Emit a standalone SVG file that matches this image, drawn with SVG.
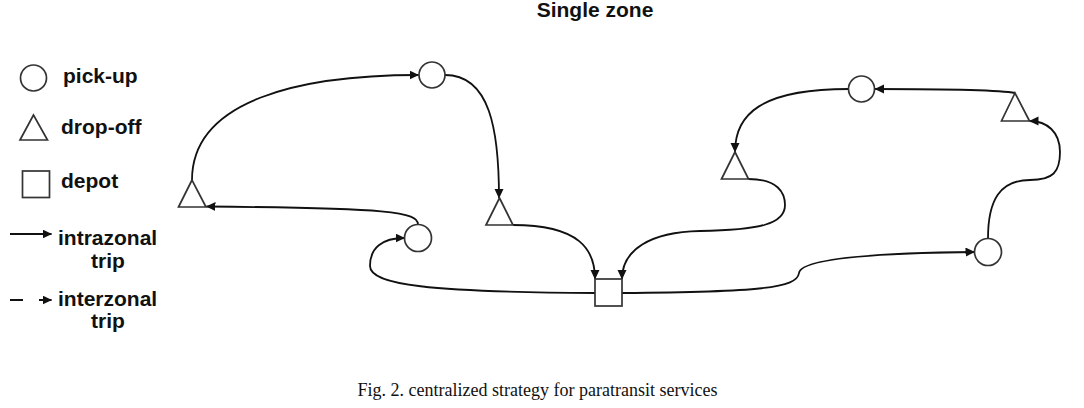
<svg xmlns="http://www.w3.org/2000/svg" width="1084" height="408" viewBox="0 0 1084 408">
<style>
.shape{fill:#fff;stroke:#333;stroke-width:1.7}
.edge{fill:none;stroke:#111;stroke-width:1.8}
.lbl{font-family:"Liberation Sans",Arial,sans-serif;font-weight:bold;font-size:21px;fill:#111}
.cap{font-family:"Liberation Serif","Times New Roman",serif;font-size:18px;fill:#111}
</style>
<defs>
<marker id="ah" markerWidth="11" markerHeight="10" refX="9" refY="4.5" orient="auto" markerUnits="userSpaceOnUse">
<path d="M0,0 L9.5,4.5 L0,9 z" fill="#111"/>
</marker>
</defs>
<rect width="1084" height="408" fill="#fff"/>
<text class="lbl" x="595" y="17" text-anchor="middle" font-size="21.5">Single zone</text>

<g id="legend">
<circle class="shape" cx="33.5" cy="78" r="13"/>
<text class="lbl" x="63" y="83">pick-up</text>
<polygon class="shape" points="33.5,115 20,140 47.5,140"/>
<text class="lbl" x="61" y="134">drop-off</text>
<rect class="shape" x="22.5" y="171" width="27" height="26.5"/>
<text class="lbl" x="61" y="188">depot</text>
<line class="edge" x1="10" y1="234" x2="51.5" y2="234" marker-end="url(#ah)"/>
<text class="lbl" x="58" y="244.5">intrazonal</text>
<text class="lbl" x="108" y="267.5" text-anchor="middle">trip</text>
<line class="edge" x1="10" y1="300" x2="51.5" y2="300" stroke-dasharray="13 16" marker-end="url(#ah)"/>
<text class="lbl" x="58" y="305.5">interzonal</text>
<text class="lbl" x="108" y="328" text-anchor="middle">trip</text>
</g>

<g id="connectors">
<path class="edge" d="M192,180 C192,100 300,75 418.5,75" marker-end="url(#ah)"/>
<path class="edge" d="M445,75 C490,75 499,130 499,198" marker-end="url(#ah)"/>
<path class="edge" d="M513,225 C580,225 595,250 595,279" marker-end="url(#ah)"/>
<path class="edge" d="M595,293 C430,292 370,285 370,266 C370,248 382,238 404.5,238" marker-end="url(#ah)"/>
<path class="edge" d="M418,224.5 C418,212 390,208 206.5,206.5" marker-end="url(#ah)"/>
<path class="edge" d="M622,293 C760,292 797,288 799,273 C801,258 880,253 974.5,252" marker-end="url(#ah)"/>
<path class="edge" d="M988,238.5 C988,200 1000,180 1030,180 C1053,180 1060,172 1060,152 C1060,132 1047,121 1029.5,121" marker-end="url(#ah)"/>
<path class="edge" d="M1015,93 C1000,90 950,89 875,89" marker-end="url(#ah)"/>
<path class="edge" d="M848.5,89 C760,89 735,115 735,152" marker-end="url(#ah)"/>
<path class="edge" d="M748.5,179 C778,179 785,193 785,205 C785,224 760,230 700,231 C650,232 622,250 622,279" marker-end="url(#ah)"/>
</g>

<g id="pickup1"><circle class="shape" cx="432" cy="75" r="13"/></g>
<g id="dropoff1"><polygon class="shape" points="192,180 178.5,207 206,207"/></g>
<g id="pickup2"><circle class="shape" cx="418" cy="238" r="13.5"/></g>
<g id="dropoff2"><polygon class="shape" points="499.5,198 486,225 513,225"/></g>
<g id="depot"><rect class="shape" x="595" y="279" width="27" height="27"/></g>
<g id="pickup3"><circle class="shape" cx="861.5" cy="89" r="13"/></g>
<g id="dropoff3"><polygon class="shape" points="1015,93 1001.5,121 1029.5,121"/></g>
<g id="dropoff4"><polygon class="shape" points="735,152 721.5,179 748.5,179"/></g>
<g id="pickup4"><circle class="shape" cx="988" cy="252" r="13.5"/></g>

<text class="cap" x="537.5" y="396" text-anchor="middle">Fig. 2. centralized strategy for paratransit services</text>
</svg>
